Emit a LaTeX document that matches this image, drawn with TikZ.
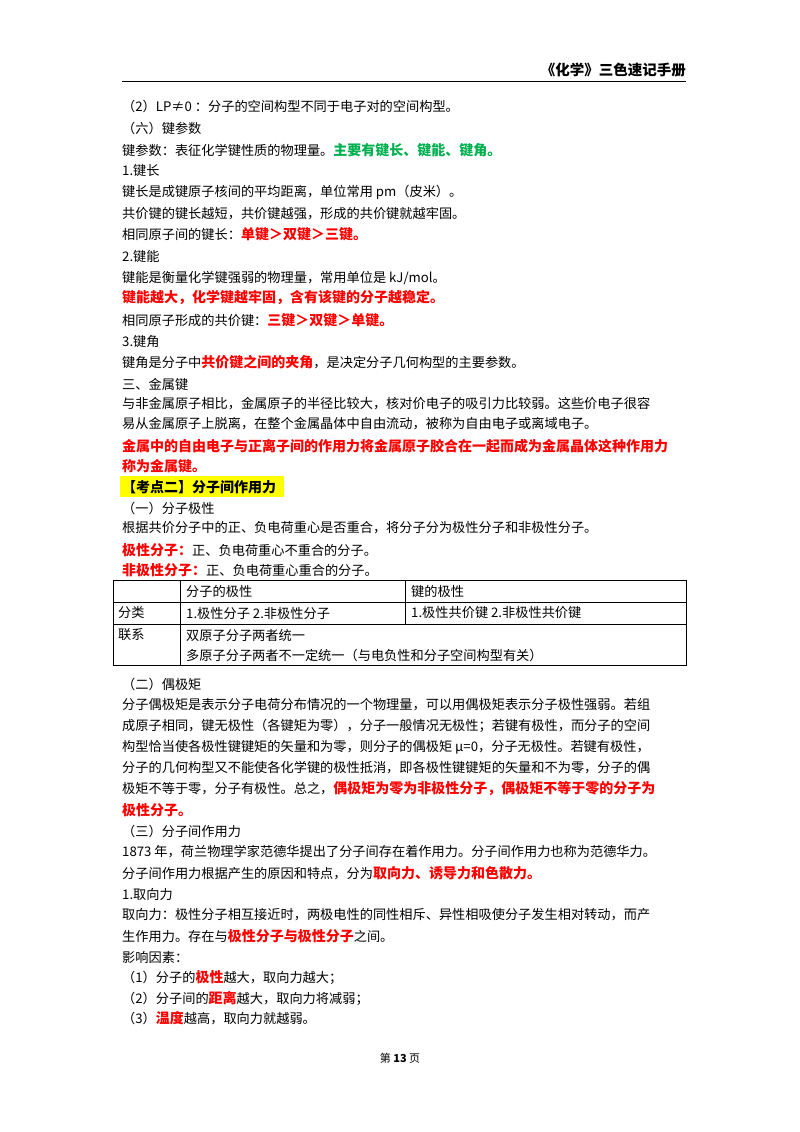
\documentclass[tikz,border=0pt]{standalone}
\usepackage{fontspec}
\setmainfont{Noto Sans CJK SC}
\definecolor{kred}{HTML}{FF0000}
\definecolor{kgreen}{HTML}{00B050}
\definecolor{kyel}{HTML}{FFFF00}
\newcommand{\R}[1]{\textcolor{kred}{\fontsize{14}{16}\selectfont\bfseries #1}}
\begin{document}
\begin{tikzpicture}[x=1pt,y=-1pt,
  ln/.style={anchor=west,inner sep=0pt,font=\fontsize{13.2}{16}\selectfont},
  cell/.style={anchor=west,inner sep=0pt,font=\fontsize{13.2}{16}\selectfont}]
\useasboundingbox (0,0) rectangle (800,1132);
\fill[white] (0,0) rectangle (800,1132);
\node[anchor=east,inner sep=0pt,font=\fontsize{14.5}{16}\selectfont\bfseries] (hd) at (686,70) {《化学》三色速记手册};
\draw[line width=0.8pt] (122,81) -- (686,81);
\node[ln] (l1) at (122,106) {（2）LP≠0 ：分子的空间构型不同于电子对的空间构型。};
\node[ln] (l2) at (122,128) {（六）键参数};
\node[ln] (l3) at (122,150) {键参数：表征化学键性质的物理量。\textcolor{kgreen}{\fontsize{14}{16}\selectfont\bfseries 主要有键长、键能、键角。}};
\node[ln] (l4) at (122,170) {1.键长};
\node[ln] (l5) at (122,192) {键长是成键原子核间的平均距离，单位常用 pm（皮米）。};
\node[ln] (l6) at (122,214) {共价键的键长越短，共价键越强，形成的共价键就越牢固。};
\node[ln] (l7) at (122,234) {相同原子间的键长：\R{单键＞双键＞三键。}};
\node[ln] (l8) at (122,256) {2.键能};
\node[ln] (l9) at (122,278) {键能是衡量化学键强弱的物理量，常用单位是 kJ/mol。};
\node[ln] (l10) at (122,298) {\R{键能越大，化学键越牢固，含有该键的分子越稳定。}};
\node[ln] (l11) at (122,320) {相同原子形成的共价键：\R{三键＞双键＞单键。}};
\node[ln] (l12) at (122,342) {3.键角};
\node[ln] (l13) at (122,362) {键角是分子中\R{共价键之间的夹角}，是决定分子几何构型的主要参数。};
\node[ln] (l14) at (122,384) {三、金属键};
\node[ln] (l15) at (122,404) {与非金属原子相比，金属原子的半径比较大，核对价电子的吸引力比较弱。这些价电子很容};
\node[ln] (l16) at (122,424) {易从金属原子上脱离，在整个金属晶体中自由流动，被称为自由电子或离域电子。};
\node[ln] (l17) at (122,446) {\R{金属中的自由电子与正离子间的作用力将金属原子胶合在一起而成为金属晶体这种作用力}};
\node[ln] (l18) at (122,466) {\R{称为金属键。}};
\fill[kyel] (120,476) rectangle (284,497);
\node[ln] (l19) at (122,487) {\fontsize{14}{16}\selectfont\bfseries【考点二】分子间作用力};
\node[ln] (l20) at (122,508) {（一）分子极性};
\node[ln] (l21) at (122,528) {根据共价分子中的正、负电荷重心是否重合，将分子分为极性分子和非极性分子。};
\node[ln] (l22) at (122,550) {\R{极性分子：}正、负电荷重心不重合的分子。};
\node[ln] (l23) at (122,570) {\R{非极性分子：}正、负电荷重心重合的分子。};
% table
\draw[line width=0.6pt] (113,580) rectangle (686,665);
\draw[line width=0.6pt] (113,602) -- (686,602);
\draw[line width=0.6pt] (113,624) -- (686,624);
\draw[line width=0.6pt] (180,580) -- (180,665);
\draw[line width=0.6pt] (405,580) -- (405,624);
\node[cell] (t1) at (186,591) {分子的极性};
\node[cell] (t2) at (411,591) {键的极性};
\node[cell] (t3) at (118,613) {分类};
\node[cell] (t4) at (186,613) {1.极性分子 2.非极性分子};
\node[cell] (t5) at (411,613) {1.极性共价键 2.非极性共价键};
\node[cell] (t6) at (118,635) {联系};
\node[cell] (t7) at (186,635) {双原子分子两者统一};
\node[cell] (t8) at (186,655) {多原子分子两者不一定统一（与电负性和分子空间构型有关）};
\node[ln] (m1) at (122,684) {（二）偶极矩};
\node[ln] (m2) at (122,705) {分子偶极矩是表示分子电荷分布情况的一个物理量，可以用偶极矩表示分子极性强弱。若组};
\node[ln] (m3) at (122,726) {成原子相同，键无极性（各键矩为零），分子一般情况无极性；若键有极性，而分子的空间};
\node[ln] (m4) at (122,747) {构型恰当使各极性键键矩的矢量和为零，则分子的偶极矩 μ=0，分子无极性。若键有极性，};
\node[ln] (m5) at (122,768) {分子的几何构型又不能使各化学键的极性抵消，即各极性键键矩的矢量和不为零，分子的偶};
\node[ln] (m6) at (122,789) {极矩不等于零，分子有极性。总之，\R{偶极矩为零为非极性分子，偶极矩不等于零的分子为}};
\node[ln] (m7) at (122,810) {\R{极性分子。}};
\node[ln] (m8) at (122,831) {（三）分子间作用力};
\node[ln] (m9) at (122,852) {1873 年，荷兰物理学家范德华提出了分子间存在着作用力。分子间作用力也称为范德华力。};
\node[ln] (m10) at (122,873) {分子间作用力根据产生的原因和特点，分为\R{取向力、诱导力和色散力。}};
\node[ln] (m11) at (122,894) {1.取向力};
\node[ln] (m12) at (122,915) {取向力：极性分子相互接近时，两极电性的同性相斥、异性相吸使分子发生相对转动，而产};
\node[ln] (m13) at (122,936) {生作用力。存在与\R{极性分子与极性分子}之间。};
\node[ln] (m14) at (122,957) {影响因素：};
\node[ln] (m15) at (122,978) {（1）分子的\R{极性}越大，取向力越大；};
\node[ln] (m16) at (122,998) {（2）分子间的\R{距离}越大，取向力将减弱；};
\node[ln] (m17) at (122,1018) {（3）\R{温度}越高，取向力就越弱。};
\node[inner sep=0pt,font=\fontsize{11}{14}\selectfont] (ft) at (400,1058) {第 \textbf{13} 页};
\end{tikzpicture}
\end{document}
